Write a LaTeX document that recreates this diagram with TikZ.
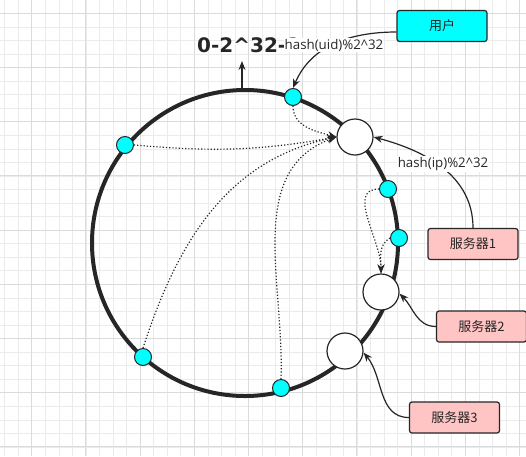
\documentclass[tikz,border=0pt]{standalone}
\usepackage{fontspec}
\setmainfont{Open Sans}
\newfontfamily\cjkfont{Noto Sans CJK SC}
\newfontfamily\rangefont{DejaVu Sans}
\usetikzlibrary{arrows.meta}
\definecolor{srvpink}{HTML}{FFC4C4}
\definecolor{keycyan}{HTML}{00FFFF}

\begin{document}
\begin{tikzpicture}[x=1pt,y=-1pt,>={Stealth[length=9pt,width=7pt]},
  minor/.style={line width=0.6pt,black!8},
  major/.style={line width=0.9pt,black!14},
  ring/.style={line width=4pt,black!85},
  keydot/.style={circle,draw=black!85,line width=1pt,fill=keycyan,minimum size=17pt,inner sep=0pt},
  srvdot/.style={circle,draw=black!85,line width=1.2pt,fill=white,minimum size=36pt,inner sep=0pt},
  box/.style={draw=black!85,line width=1.2pt,rounded corners=2.5pt,minimum width=90pt,minimum height=31pt,inner sep=0pt,text=black!85,font=\cjkfont\fontsize{13}{15}\selectfont},
  link/.style={->,line width=1.2pt,black!85},
  hop/.style={->,dotted,line width=1.2pt,black!85},
  lbl/.style={fill=white,inner sep=1pt,text=black!85,font=\fontsize{13.3}{15}\selectfont}]
  \useasboundingbox (0,0) rectangle (526,456);
  \fill[white] (0,0) rectangle (526,456);
  \foreach \i in {0,...,38}
    \draw[minor] ({4.6+13.55*\i},0)--({4.6+13.55*\i},456);
  \foreach \i in {1,...,33}
    \draw[minor] (0,{-0.25+13.55*\i})--(526,{-0.25+13.55*\i});
  \foreach \i in {0,...,9}
    \draw[major] ({31.7+54.2*\i},0)--({31.7+54.2*\i},456);
  \foreach \i in {0,...,8}
    \draw[major] (0,{13.3+54.2*\i})--(526,{13.3+54.2*\i});

  \draw[ring] (245,243) circle[radius=153pt];
  \coordinate (top) at (242,90);
  \coordinate (tip) at (242,61);
  \draw[link] (top)--(tip);
  \node[anchor=base west,inner sep=0pt,text=black!85,font=\rangefont\bfseries\fontsize{20}{24}\selectfont] (range) at (197,52) {0-2\textasciicircum32-1};

  \node[keydot] (p1) at (293,97) {};
  \node[keydot] (p2) at (125,145) {};
  \node[keydot] (p3) at (143,357) {};
  \node[keydot] (p4) at (281,388) {};
  \node[keydot] (p5) at (388,189) {};
  \node[keydot] (p6) at (399,238) {};
  \node[srvdot] (c1) at (355,137) {};
  \node[srvdot] (c2) at (381,292) {};
  \node[srvdot] (c3) at (345,351) {};

  \node[box,fill=keycyan] (user) at (442,26) {用户};
  \node[box,fill=srvpink] (s1) at (473,244) {服务器1};
  \node[box,fill=srvpink] (s2) at (481.5,326.5) {服务器2};
  \node[box,fill=srvpink] (s3) at (454.5,417.5) {服务器3};

  \draw[link] ([yshift=-6pt]user.west) to[out=180,in=67] (p1.north);
  \draw[link] (s1.north) to[out=90,in=-15] (c1.east);
  \draw[link] (s2.west) to[out=180,in=-45] (c2.-5);
  \draw[link] (s3.west) to[out=180,in=-50] (c3.-5);
  \node[lbl] (uidlbl) at (334,45) {hash(uid)\%2\textasciicircum32};
  \node[lbl] (iplbl) at (443,164) {hash(ip)\%2\textasciicircum32};

  \draw[hop] (p1.south) to[out=-90,in=165] (c1.west);
  \draw[hop] (p2.east) to[out=-5,in=190] (c1.west);
  \draw[hop] (p3.north) to[out=72,in=192] (c1.west);
  \draw[hop] (p4.north) to[out=88,in=200] (c1.west);
  \draw[hop] (p5.west) to[out=180,in=90] (c2.north);
  \draw[hop] (p6.west) to[out=210,in=90] (c2.north);
\end{tikzpicture}
\end{document}
